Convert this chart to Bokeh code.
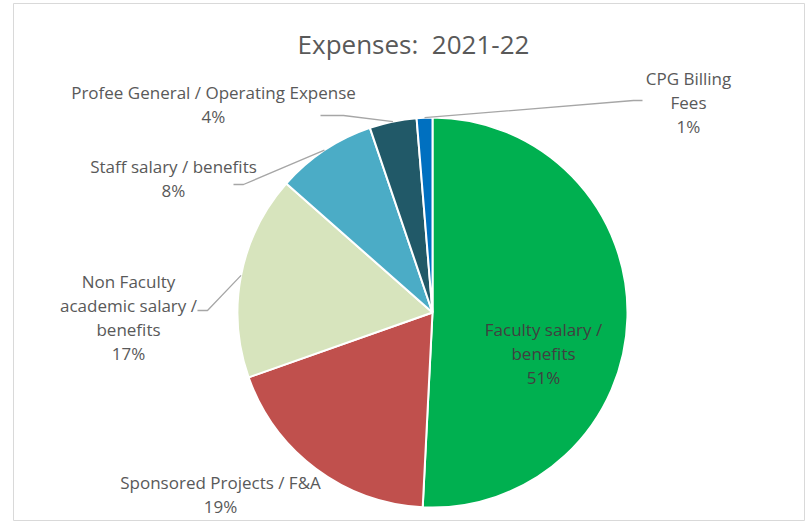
import math
from bokeh.plotting import figure
from bokeh.models import Range1d, ColumnDataSource
from bokeh.core.properties import value
from bokeh.embed import file_html
from bokeh.resources import INLINE

# ---- data ----
categories = ["Faculty salary / benefits", "Sponsored Projects / F&A",
              "Non Faculty academic salary / benefits", "Staff salary / benefits",
              "Profee General / Operating Expense", "CPG Billing Fees"]
shares = [50.8, 18.8, 16.9, 8.3, 3.9, 1.3]
label_lines = [["Faculty salary /", "benefits"],
               ["Sponsored Projects / F&A"],
               ["Non Faculty", "academic salary /", "benefits"],
               ["Staff salary / benefits"],
               ["Profee General / Operating Expense"],
               ["CPG Billing", "Fees"]]
colors = ["#00B050", "#C0504D", "#D7E4BD", "#4BACC6", "#215968", "#0070C0"]
label_colors = ["#404040", "#595959", "#595959", "#595959", "#595959", "#595959"]
title_text = "Expenses:\u00a0 2021-22"

# ---- layout (page pixels) ----
CX, CY, R = 432, 312, 195
label_centers = [(543, 352.5), (220, 494), (128, 316.5), (173, 178), (213, 104), (688, 101.5)]
# elbow + end points of leader lines (None = no leader)
leaders = [None, None, [(207, 310), (197, 310)], [(243, 184), (233, 184)],
           [(343, 115), (320, 115)], [(633, 100), (642, 100)]]
LINE_H = 24
FONT = "Open Sans"
TXT = "#595959"

p = figure(width=805, height=521, output_backend="svg", toolbar_location=None,
           x_range=Range1d(13, 804), y_range=Range1d(-520, -3),
           min_border_left=13, min_border_right=1, min_border_top=3, min_border_bottom=1)
p.axis.visible = False
p.grid.visible = False
p.outline_line_color = "#d9d9d9"
p.outline_line_width = 1
p.background_fill_color = "white"
p.border_fill_color = "white"

total = sum(shares)
starts, ends, mids = [], [], []
cum = 0.0
for s in shares:
    a0 = math.pi / 2 - 2 * math.pi * (cum + s) / total
    a1 = math.pi / 2 - 2 * math.pi * cum / total
    starts.append(a0)
    ends.append(a1)
    mids.append((a0 + a1) / 2)
    cum += s

src = ColumnDataSource(dict(start=starts, end=ends, color=colors, cat=categories))
p.wedge(x=CX, y=-CY, radius=R, start_angle="start", end_angle="end",
        fill_color="color", line_color="white", line_width=2, source=src)

# leader lines
for i, ld in enumerate(leaders):
    if ld is None:
        continue
    xs = [CX + R * math.cos(mids[i])] + [pt[0] for pt in ld]
    ys = [-CY + R * math.sin(mids[i])] + [-pt[1] for pt in ld]
    p.line(xs, ys, line_color="#a6a6a6", line_width=1.3)

# labels
tx, ty, tt, tc = [], [], [], []
for i, lines in enumerate(label_lines):
    pct = f"{round(shares[i] / total * 100)}%"
    all_lines = lines + [pct]
    n = len(all_lines)
    cx, cy = label_centers[i]
    for k, ln in enumerate(all_lines):
        tx.append(cx)
        ty.append(-(cy + (k - (n - 1) / 2) * LINE_H))
        tt.append(ln)
        tc.append(label_colors[i])
p.text(x=tx, y=ty, text=tt, text_color=tc, text_align="center", text_baseline="middle",
       text_font=value(FONT), text_font_size="17px")

p.text(x=[413], y=[-43], text=[title_text], text_align="center", text_baseline="middle",
       text_font=value(FONT), text_font_size="26px", text_color=TXT)

open("out.html", "w").write(file_html(p, INLINE))
